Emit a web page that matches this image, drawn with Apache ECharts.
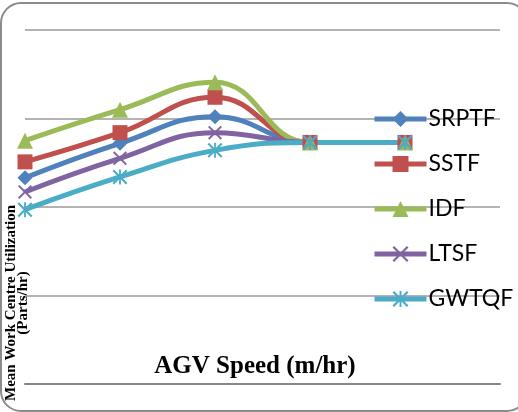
<!DOCTYPE html>
<html>
<head>
<meta charset="utf-8">
<script src="https://cdn.jsdelivr.net/npm/echarts@6/dist/echarts.min.js"></script>
<style>
  html, body { margin: 0; padding: 0; background: #fff; }
  #chart { width: 518px; height: 412px; }
</style>
</head>
<body>
<div id="chart"></div>
<script>
// AGV speed levels (labels are not shown in the picture); last slot is empty
const speeds = ["1", "2", "3", "4", "5", ""];

const seriesNames = ["SRPTF", "SSTF", "IDF", "LTSF", "GWTQF"];
const srptf = [2.33, 2.72, 3.02, 2.73, 2.73];
const sstf = [2.51, 2.84, 3.24, 2.73, 2.73];
const idf = [2.75, 3.10, 3.41, 2.73, 2.73];
const ltsf = [2.17, 2.55, 2.84, 2.73, 2.73];
const gwtqf = [1.97, 2.34, 2.64, 2.73, 2.73];

const colors = ["#4F81BD", "#C0504D", "#9BBB59", "#8064A2", "#4BACC6"];

// cross and asterisk markers as filled outlines
const crossPath = "path://M0,1 L1,0 L5,4 L9,0 L10,1 L6,5 L10,9 L9,10 L5,6 L1,10 L0,9 L4,5 Z";
const starPath = crossPath + " M4.4,0 L5.6,0 L5.6,10 L4.4,10 Z";
const symbols = ["diamond", "rect", "triangle", crossPath, starPath];
const sizes = [15, 15, 16, 14, 15];
const values = [srptf, sstf, idf, ltsf, gwtqf];

const myChart = echarts.init(document.getElementById("chart"));

const option = {
  animation: false,
  color: colors,
  grid: { left: 25, right: 18, top: 30, bottom: 28 },
  legend: {
    orient: "vertical",
    left: 367,
    top: 101,
    itemWidth: 52,
    itemHeight: 20,
    itemGap: 19,
    lineStyle: { width: 5 },
    textStyle: {
      fontFamily: "Lato, Noto Sans, sans-serif",
      fontSize: 23,
      lineHeight: 26,
      color: "#000",
      padding: [0, 0, 0, -3],
    },
    data: seriesNames,
  },
  xAxis: {
    type: "category",
    data: speeds,
    boundaryGap: false,
    axisLine: { lineStyle: { color: "#878787", width: 2 } },
    axisTick: { show: false },
    axisLabel: { show: false },
  },
  yAxis: {
    type: "value",
    min: 0,
    max: 4,
    interval: 1,
    axisLine: { show: false },
    axisTick: { show: false },
    axisLabel: { show: false },
    splitLine: { lineStyle: { color: "#9a9a9a", width: 1.5 } },
  },
  graphic: [
    {
      type: "rect",
      shape: { x: 1, y: 3, width: 526, height: 408, r: 20 },
      style: { fill: "none", stroke: "#8c8c8c", lineWidth: 2 },
      silent: true,
    },
    {
      type: "text",
      x: 255,
      y: 367,
      style: {
        text: "AGV Speed (m/hr)",
        fontFamily: "Liberation Serif, serif",
        fontWeight: "bold",
        fontSize: 25,
        fill: "#000",
        align: "center",
        verticalAlign: "middle",
      },
    },
    {
      type: "text",
      x: 11,
      y: 303,
      rotation: Math.PI / 2,
      style: {
        text: "Mean Work Centre Utilization",
        fontFamily: "Liberation Serif, serif",
        fontWeight: "bold",
        fontSize: 15,
        fill: "#000",
        align: "center",
        verticalAlign: "middle",
      },
    },
    {
      type: "text",
      x: 23,
      y: 303,
      rotation: Math.PI / 2,
      style: {
        text: "(Parts/hr)",
        fontFamily: "Liberation Serif, serif",
        fontWeight: "bold",
        fontSize: 15,
        fill: "#000",
        align: "center",
        verticalAlign: "middle",
      },
    },
  ],
  series: seriesNames.map((name, i) => ({
    name: name,
    type: "line",
    data: values[i],
    smooth: 0.45,
    symbol: symbols[i],
    symbolSize: sizes[i],
    showAllSymbol: true,
    lineStyle: { width: 5, color: colors[i] },
    itemStyle: { color: colors[i] },
  })),
};

myChart.setOption(option);
</script>
</body>
</html>
